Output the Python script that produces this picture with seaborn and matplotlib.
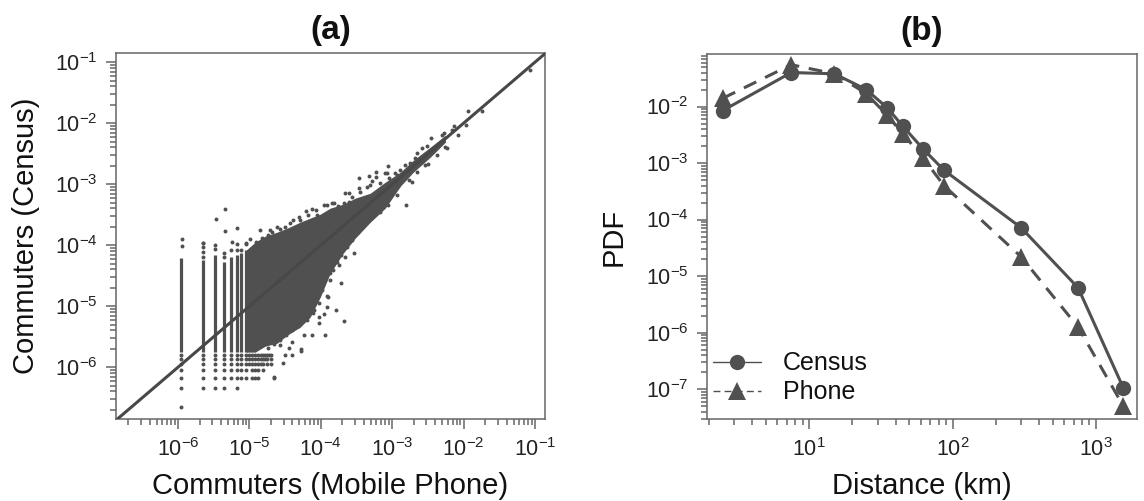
import numpy as np
import pandas as pd
import seaborn as sns
import matplotlib
matplotlib.use("Agg")
import matplotlib.pyplot as plt
from matplotlib.lines import Line2D
from matplotlib.ticker import LogLocator, NullFormatter, LogFormatterMathtext

sns.set_theme(style="ticks")
plt.rcParams['font.family'] = ['Liberation Sans', 'DejaVu Sans']
plt.rcParams['mathtext.fontset'] = 'custom'
plt.rcParams['mathtext.rm'] = 'Liberation Sans'
plt.rcParams['mathtext.default'] = 'regular'

GREY = "#505050"
AXGREY = "#666666"

# panel (a): commuter shares, smallest phone share and census share
phone_unit = 1.1e-6
census_unit = 2.25e-7

# vertical stacks at the first phone levels (log10 of the census share)
stack_k = [1, 2, 3, 4, 5, 6, 7, 8]
stack_top = [-4.218, -4.25, -4.164, -4.27, -4.19, -4.164, -4.13, -4.08]
stack_bottom = [-5.75, -5.75, -5.75, -5.75, -5.75, -5.75, -5.75, -5.75]

# single dots above the stacks
stack_dot_k = [2, 2, 2, 2, 3, 3, 4, 4, 5, 6, 6, 7, 8]
stack_dot_y = [-3.962, -4.038, -4.11, -4.19, -4.0, -4.07, -4.126, -4.202, -4.08, -3.984, -4.08, -4.08, -3.984]

# rows of dots below the stacks: census level -> phone levels
low_levels = [1, 2, 3, 4, 5, 6, 7]
low_rows = [
    [1],
    [1, 2, 3, 4, 6],
    [1, 2, 3, 4, 5, 6, 7, 8, 10, 11, 12, 20],
    [1, 2, 3, 4, 5, 6, 7, 8, 10, 11, 12, 14],
    [1, 2, 3, 4, 5, 6, 7, 8, 9, 10, 11, 12, 13, 14, 16, 18],
    [1, 2, 3, 4, 5, 6, 7, 8, 9, 10, 11, 12, 13, 14, 15, 16, 18],
    [1, 2, 3, 4, 5, 6, 7, 8, 9, 10, 11, 12, 13, 14, 15, 16, 17, 18],
]

# outline of the dense cloud (log10)
cloud_x = [-5.046, -4.920, -4.780, -4.612, -4.471, -4.289, -4.149, -4.008, -3.868,
           -3.686, -3.518, -3.307, -3.097, -2.886, -2.704, -2.466, -2.255]
cloud_top = [-4.082, -3.951, -3.852, -3.787, -3.721, -3.623, -3.557, -3.492, -3.393,
             -3.328, -3.230, -3.148, -2.967, -2.803, -2.607, -2.393, -2.197]
cloud_low = [-5.754, -5.754, -5.656, -5.607, -5.475, -5.344, -5.180, -4.852, -4.459,
             -4.131, -3.885, -3.623, -3.393, -3.033, -2.803, -2.557, -2.311]

# loose points around the cloud (log10)
loose_x = [-5.345, -5.47, -5.345, -5.17, -5.247, -5.95, -5.95, -5.645,
           -3.53, -3.718, -3.788, -3.672, -3.914, -4.032, -3.938, -4.125, -3.878, -3.752,
           -3.658, -3.914, -3.962, -4.032, -4.243, -4.405, -4.279, -4.453, -4.569, -4.107,
           -4.532, -4.405, -4.499, -4.663, -4.279,
           -1.942, -1.740, -1.077, -2.139, -1.961, -2.297, -2.452, -2.255, -2.582, -2.512,
           -2.652, -2.372, -2.498, -2.746, -3.064, -3.331, -3.471, -3.227, -3.658, -3.602,
           -2.802, -2.722, -3.097, -2.957, -3.283,
           -4.125, -4.205, -3.962, -4.313, -4.616, -4.499, -4.429, -4.710, -3.073, -3.307,
           -3.471, -3.822, -3.611, -4.055]
loose_y = [-3.415, -3.574, -3.775, -3.726, -3.946, -3.907, -4.01, -3.962,
           -4.126, -4.623, -5.066, -5.246, -5.021, -5.274, -5.470, -5.470, -4.454, -4.328,
           -4.192, -4.836, -5.136, -5.175, -5.475, -5.585, -5.710, -5.684, -5.639, -5.115,
           -5.939, -5.803, -5.803, -6.169, -5.738,
           -1.803, -1.803, -1.131, -2.044, -2.033, -2.192, -2.241, -2.389, -2.415, -2.377,
           -2.492, -2.525, -2.672, -2.651, -2.705, -2.864, -2.902, -2.890, -3.143, -3.143,
           -3.344, -2.962, -2.820, -2.820, -2.946,
           -3.415, -3.438, -3.344, -3.536, -3.700, -3.700, -3.644, -3.754, -2.825, -3.016,
           -3.070, -3.316, -3.290, -3.508]

# points along the cloud edge (log10)
edge_x = [-4.850, -4.686, -4.906, -4.990, -5.046, -4.826, -4.734, -4.289, -3.914, -3.844,
          -3.682, -3.447, -3.353, -3.167, -3.050, -2.933, -4.569, -4.387, -4.177, -4.065,
          -3.756, -3.560,
          -3.826, -3.770, -3.868, -3.980, -3.896, -4.022, -4.093, -4.191, -4.317, -4.401,
          -4.485, -4.569, -4.654, -4.738, -3.714, -3.630, -3.560, -3.475, -3.391, -3.279,
          -3.167, -3.055, -2.928,
          -2.816, -2.648, -2.564, -2.410, -2.353, -2.886, -2.760, -2.914, -3.0, -3.223,
          -2.816, -2.536, -2.676, -2.494, -2.227, -2.269, -2.157, -2.073]
edge_y = [-3.754, -3.782, -3.946, -3.907, -3.972, -3.890, -3.836, -3.590, -3.344, -3.316,
          -3.316, -3.126, -3.044, -2.989, -2.907, -2.852, -3.738, -3.590, -3.508, -3.426,
          -3.361, -3.213,
          -4.410, -4.279, -4.574, -4.738, -4.852, -4.951, -5.066, -5.230, -5.328, -5.393,
          -5.475, -5.557, -5.623, -5.689, -4.164, -4.033, -3.918, -3.787, -3.672, -3.541,
          -3.459, -3.344, -3.180,
          -2.689, -2.803, -2.607, -2.443, -2.377, -2.770, -2.934, -3.033, -3.131, -2.803,
          -2.902, -2.689, -2.574, -2.508, -2.410, -2.164, -2.115, -2.197]

a_xticks = [1e-6, 1e-5, 1e-4, 1e-3, 1e-2, 1e-1]
a_yticks = [1e-6, 1e-5, 1e-4, 1e-3, 1e-2, 1e-1]

# panel (b): distance distribution
distance = [2.5, 7.5, 15, 25, 35, 45, 62, 87, 300, 750, 1550]
census_pdf = [8.5e-3, 4e-2, 3.8e-2, 2e-2, 9.5e-3, 4.5e-3, 1.8e-3, 7.5e-4, 7.2e-5, 6.2e-6, 1.05e-7]
phone_pdf = [1.4e-2, 5.5e-2, 3.8e-2, 1.7e-2, 7e-3, 3.3e-3, 1.25e-3, 4e-4, 2.2e-5, 1.25e-6, 5e-8]

b_xticks = [1e1, 1e2, 1e3]
b_yticks = [1e-7, 1e-6, 1e-5, 1e-4, 1e-3, 1e-2]


def styleAxes(ax, xticks, yticks):
    for side in ax.spines.values():
        side.set_color(AXGREY)
        side.set_linewidth(1.1)
    for axis, ticks in ((ax.xaxis, xticks), (ax.yaxis, yticks)):
        axis.set_ticks(ticks)
        axis.set_minor_locator(LogLocator(base=10, subs=range(2, 10), numticks=20))
        axis.set_major_formatter(LogFormatterMathtext())
        axis.set_minor_formatter(NullFormatter())
    ax.tick_params(which="major", length=7, width=1.1, color=AXGREY, labelsize=15.5,
                   labelcolor="#222222")
    ax.tick_params(which="minor", length=4, width=1.1, color=AXGREY)
    ax.tick_params(axis="x", which="major", pad=7)
    ax.tick_params(axis="y", which="major", pad=6)


fig = plt.figure(figsize=(11.44, 5.01), dpi=100)
axA = fig.add_axes([116 / 1144, 1 - 419 / 501, 429 / 1144, 366 / 501])
axB = fig.add_axes([707 / 1144, 1 - 419 / 501, 430 / 1144, 365 / 501])

# (a)
axA.set_xscale("log")
axA.set_yscale("log")
axA.fill_between(10.0 ** np.array(cloud_x), 10.0 ** np.array(cloud_low), 10.0 ** np.array(cloud_top),
                 color=GREY, lw=0, zorder=2)
axA.vlines(phone_unit * np.array(stack_k), 10.0 ** np.array(stack_bottom), 10.0 ** np.array(stack_top),
           color=GREY, lw=2.3, zorder=2)

low_x = []
low_y = []
for level, row in zip(low_levels, low_rows):
    for k in row:
        low_x.append(phone_unit * k)
        low_y.append(census_unit * level)

dots = pd.DataFrame({
    "phone": list(10.0 ** np.array(loose_x)) + list(10.0 ** np.array(edge_x))
             + list(phone_unit * np.array(stack_dot_k)) + low_x,
    "census": list(10.0 ** np.array(loose_y)) + list(10.0 ** np.array(edge_y))
              + list(10.0 ** np.array(stack_dot_y)) + low_y,
})
sns.scatterplot(data=dots, x="phone", y="census", ax=axA, s=8, color=GREY, linewidth=0, zorder=3)
axA.axline((1e-6, 1e-6), (1e-2, 1e-2), color="#484848", lw=2.2, zorder=4)
axA.set_xlim(10 ** -6.87, 10 ** -0.86)
axA.set_ylim(10 ** -6.85, 10 ** -0.85)
styleAxes(axA, a_xticks, a_yticks)
axA.set_xlabel("Commuters (Mobile Phone)", fontsize=21, color="#111111", labelpad=8)
axA.set_ylabel("Commuters (Census)", fontsize=21, color="#111111", labelpad=11)
axA.set_title("(a)", fontsize=24, fontweight="bold", color="#111111", pad=10)

# (b)
sns.lineplot(x=distance, y=census_pdf, ax=axB, color=GREY, lw=2.2, marker="o", markersize=11,
             markeredgewidth=0, errorbar=None, estimator=None, sort=False)
sns.lineplot(x=distance, y=phone_pdf, ax=axB, color=GREY, lw=2.2, linestyle="--", marker="^", markersize=13,
             markeredgewidth=0, errorbar=None, estimator=None, sort=False, dashes=True)
axB.lines[-1].set_dashes((4.5, 3.2))
axB.set_xscale("log")
axB.set_yscale("log")
axB.set_xlim(1.94, 1931)
axB.set_ylim(10 ** -7.53, 10 ** -1.07)
styleAxes(axB, b_xticks, b_yticks)
axB.set_xlabel("Distance (km)", fontsize=21, color="#111111", labelpad=8)
axB.set_ylabel("PDF", fontsize=21, color="#111111", labelpad=13)
axB.set_title("(b)", fontsize=24, fontweight="bold", color="#111111", pad=10)

handles = [
    Line2D([], [], color=GREY, lw=1.0, marker="o", markersize=11, markeredgewidth=0),
    Line2D([], [], color=GREY, lw=1.0, linestyle=(0, (5, 3)), marker="^", markersize=13, markeredgewidth=0),
]
axB.legend(handles, ["Census", "Phone"], loc="lower left", frameon=False, fontsize=18,
           handlelength=1.9, handletextpad=0.9, labelspacing=0.2, borderaxespad=0.0, borderpad=0.0,
           bbox_to_anchor=(0.014, 0.04), labelcolor="#111111")

plt.savefig("out.png", dpi=100)
